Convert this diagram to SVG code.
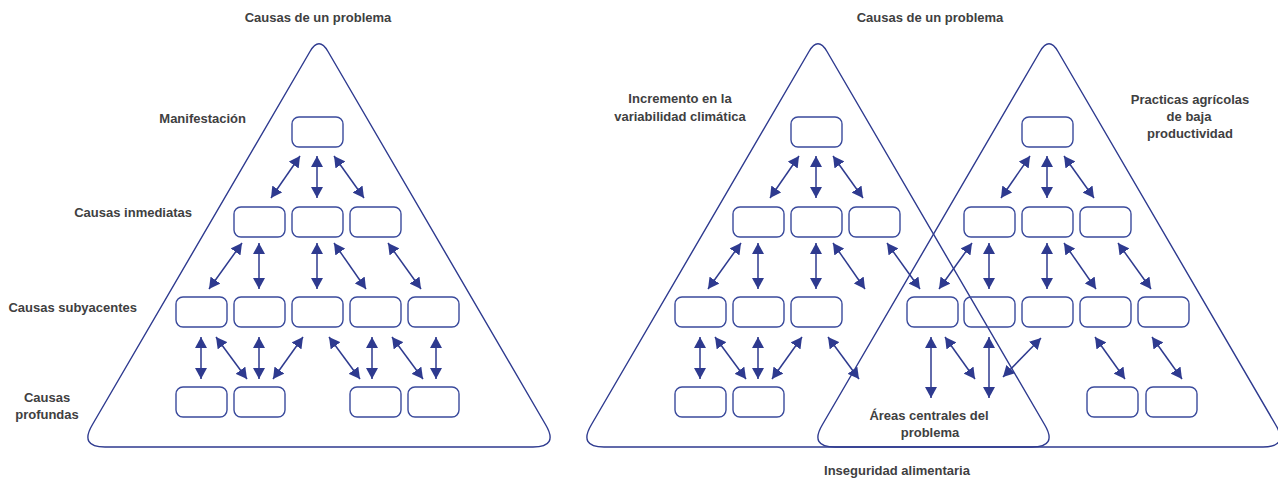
<svg xmlns="http://www.w3.org/2000/svg" width="1278" height="479" viewBox="0 0 1278 479">
<style>
.tri{fill:none;stroke:#2e3a8f;stroke-width:1.4;stroke-linejoin:round}
.box{fill:#fff;stroke:#3a4a9c;stroke-width:1.4}
.lbl{font-family:"Liberation Sans",Arial,sans-serif;font-weight:bold;font-size:13px;fill:#404041}
.mid{text-anchor:middle}
.end{text-anchor:end}
.arr{stroke:#2e3a8f;stroke-width:1.5;fill:none;marker-start:url(#ah);marker-end:url(#ah)}
</style>
<defs>
<marker id="ah" viewBox="0 0 11 12" refX="11" refY="6" markerWidth="11" markerHeight="12" markerUnits="userSpaceOnUse" orient="auto-start-reverse">
<path d="M0,0 L11,6 L0,12 z" fill="#2e3a8f"/>
</marker>
<path id="triShape" d="M310,51.5 Q319,36 328,51.5 L545.5,424.5 Q559,447 533,447 L105,447 Q79,447 92.5,424.5 Z"/>
<rect id="bx" width="51" height="30" rx="7" ry="7"/>
</defs>

<g id="triangle-1"><use href="#triShape" class="tri"/></g>
<g id="triangle-2"><use href="#triShape" class="tri" transform="translate(499,0)"/></g>
<g id="triangle-3"><use href="#triShape" class="tri" transform="translate(730,0)"/></g>

<g id="connectors">
<!-- triangle 1 -->
<line class="arr" x1="300" y1="156" x2="271" y2="198"/>
<line class="arr" x1="317" y1="156" x2="317" y2="198"/>
<line class="arr" x1="334" y1="156" x2="364" y2="198"/>
<line class="arr" x1="242" y1="243" x2="209" y2="289"/>
<line class="arr" x1="259" y1="243" x2="259" y2="289"/>
<line class="arr" x1="317" y1="243" x2="317" y2="289"/>
<line class="arr" x1="334" y1="243" x2="366" y2="289"/>
<line class="arr" x1="388" y1="243" x2="421" y2="289"/>
<line class="arr" x1="201" y1="337" x2="201" y2="379"/>
<line class="arr" x1="216" y1="337" x2="247" y2="379"/>
<line class="arr" x1="259" y1="337" x2="259" y2="379"/>
<line class="arr" x1="303" y1="337" x2="273" y2="379"/>
<line class="arr" x1="329" y1="337" x2="360" y2="379"/>
<line class="arr" x1="372" y1="337" x2="372" y2="379"/>
<line class="arr" x1="392" y1="337" x2="423" y2="379"/>
<line class="arr" x1="436" y1="337" x2="436" y2="379"/>
<!-- triangle 2 -->
<line class="arr" x1="799" y1="156" x2="770" y2="198"/>
<line class="arr" x1="816" y1="156" x2="816" y2="198"/>
<line class="arr" x1="833" y1="156" x2="863" y2="198"/>
<line class="arr" x1="741" y1="243" x2="708" y2="289"/>
<line class="arr" x1="758" y1="243" x2="758" y2="289"/>
<line class="arr" x1="816" y1="243" x2="816" y2="289"/>
<line class="arr" x1="833" y1="243" x2="865" y2="289"/>
<line class="arr" x1="887" y1="243" x2="920" y2="289"/>
<line class="arr" x1="700" y1="337" x2="700" y2="379"/>
<line class="arr" x1="715" y1="337" x2="746" y2="379"/>
<line class="arr" x1="758" y1="337" x2="758" y2="379"/>
<line class="arr" x1="802" y1="337" x2="772" y2="379"/>
<line class="arr" x1="828" y1="337" x2="859" y2="379"/>
<!-- triangle 3 -->
<line class="arr" x1="1030" y1="156" x2="1001" y2="198"/>
<line class="arr" x1="1047" y1="156" x2="1047" y2="198"/>
<line class="arr" x1="1064" y1="156" x2="1094" y2="198"/>
<line class="arr" x1="972" y1="243" x2="939" y2="289"/>
<line class="arr" x1="989" y1="243" x2="989" y2="289"/>
<line class="arr" x1="1047" y1="243" x2="1047" y2="289"/>
<line class="arr" x1="1064" y1="243" x2="1096" y2="289"/>
<line class="arr" x1="1118" y1="243" x2="1151" y2="289"/>
<line class="arr" x1="931" y1="337" x2="931" y2="398"/>
<line class="arr" x1="945" y1="337" x2="975" y2="379"/>
<line class="arr" x1="989" y1="337" x2="989" y2="398"/>
<line class="arr" x1="1041" y1="338" x2="1003" y2="377"/>
<line class="arr" x1="1095" y1="337" x2="1125" y2="379"/>
<line class="arr" x1="1152" y1="337" x2="1182" y2="379"/>
</g>

<!-- triangle 1 boxes -->
<g id="t1-r1-b1"><use href="#bx" class="box" x="292" y="117"/></g>
<g id="t1-r2-b1"><use href="#bx" class="box" x="234" y="207"/></g>
<g id="t1-r2-b2"><use href="#bx" class="box" x="292" y="207"/></g>
<g id="t1-r2-b3"><use href="#bx" class="box" x="350" y="207"/></g>
<g id="t1-r3-b1"><use href="#bx" class="box" x="176" y="297"/></g>
<g id="t1-r3-b2"><use href="#bx" class="box" x="234" y="297"/></g>
<g id="t1-r3-b3"><use href="#bx" class="box" x="292" y="297"/></g>
<g id="t1-r3-b4"><use href="#bx" class="box" x="350" y="297"/></g>
<g id="t1-r3-b5"><use href="#bx" class="box" x="408" y="297"/></g>
<g id="t1-r4-b1"><use href="#bx" class="box" x="176" y="387"/></g>
<g id="t1-r4-b2"><use href="#bx" class="box" x="234" y="387"/></g>
<g id="t1-r4-b3"><use href="#bx" class="box" x="350" y="387"/></g>
<g id="t1-r4-b4"><use href="#bx" class="box" x="408" y="387"/></g>
<!-- triangle 2 boxes -->
<g id="t2-r1-b1"><use href="#bx" class="box" x="791" y="117"/></g>
<g id="t2-r2-b1"><use href="#bx" class="box" x="733" y="207"/></g>
<g id="t2-r2-b2"><use href="#bx" class="box" x="791" y="207"/></g>
<g id="t2-r2-b3"><use href="#bx" class="box" x="849" y="207"/></g>
<g id="t2-r3-b1"><use href="#bx" class="box" x="675" y="297"/></g>
<g id="t2-r3-b2"><use href="#bx" class="box" x="733" y="297"/></g>
<g id="t2-r3-b3"><use href="#bx" class="box" x="791" y="297"/></g>
<g id="t2-r4-b1"><use href="#bx" class="box" x="675" y="387"/></g>
<g id="t2-r4-b2"><use href="#bx" class="box" x="733" y="387"/></g>
<!-- triangle 3 boxes -->
<g id="t3-r1-b1"><use href="#bx" class="box" x="1022" y="117"/></g>
<g id="t3-r2-b1"><use href="#bx" class="box" x="964" y="207"/></g>
<g id="t3-r2-b2"><use href="#bx" class="box" x="1022" y="207"/></g>
<g id="t3-r2-b3"><use href="#bx" class="box" x="1080" y="207"/></g>
<g id="t3-r3-b1"><use href="#bx" class="box" x="907" y="297" style="fill:none"/></g>
<g id="t3-r3-b2"><use href="#bx" class="box" x="964" y="297" style="fill:none"/></g>
<g id="t3-r3-b3"><use href="#bx" class="box" x="1022" y="297"/></g>
<g id="t3-r3-b4"><use href="#bx" class="box" x="1080" y="297"/></g>
<g id="t3-r3-b5"><use href="#bx" class="box" x="1138" y="297"/></g>
<g id="t3-r4-b1"><use href="#bx" class="box" x="1087" y="387"/></g>
<g id="t3-r4-b2"><use href="#bx" class="box" x="1146" y="387"/></g>

<!-- labels -->
<g id="title-left"><text class="lbl mid" x="318" y="22">Causas de un problema</text></g>
<g id="label-manifestacion"><text class="lbl end" x="246" y="123">Manifestación</text></g>
<g id="label-inmediatas"><text class="lbl end" x="192" y="217">Causas inmediatas</text></g>
<g id="label-subyacentes"><text class="lbl end" x="137" y="312">Causas subyacentes</text></g>
<g id="label-profundas"><text class="lbl mid" x="47" y="402">Causas</text><text class="lbl mid" x="47" y="419">profundas</text></g>
<g id="title-right"><text class="lbl mid" x="930" y="22">Causas de un problema</text></g>
<g id="label-incremento"><text class="lbl mid" x="680" y="103">Incremento en la</text><text class="lbl mid" x="680" y="121">variabilidad climática</text></g>
<g id="label-practicas"><text class="lbl mid" x="1190" y="104">Practicas agrícolas</text><text class="lbl mid" x="1189" y="121">de baja</text><text class="lbl mid" x="1190" y="138">productividad</text></g>
<g id="label-areas"><text class="lbl mid" x="929" y="420">Áreas centrales del</text><text class="lbl mid" x="930" y="437">problema</text></g>
<g id="label-inseguridad"><text class="lbl mid" x="897" y="475">Inseguridad alimentaria</text></g>
</svg>
